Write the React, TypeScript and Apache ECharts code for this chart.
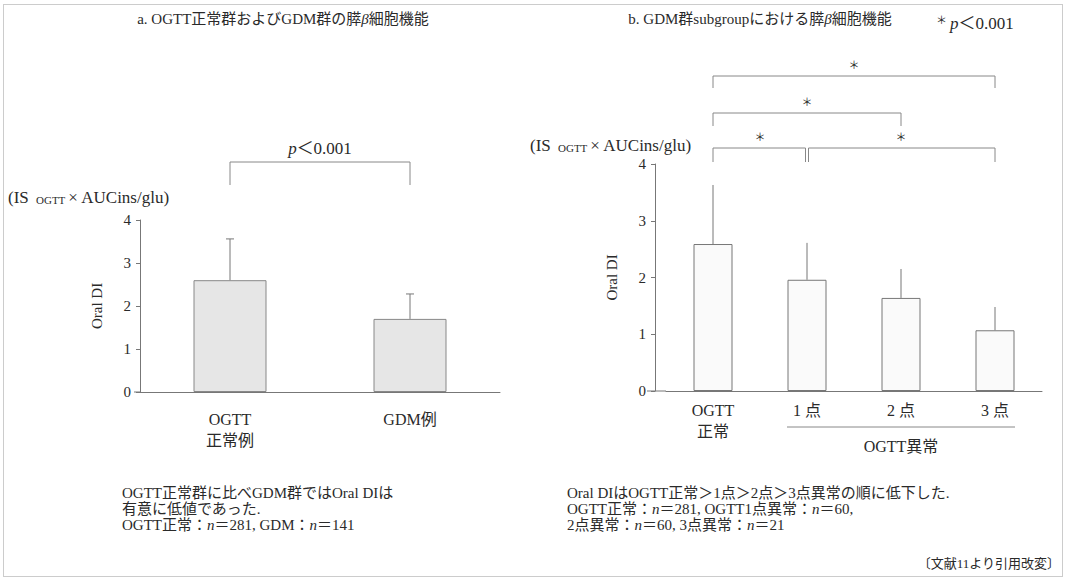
import React, { useEffect, useRef } from 'react';
import * as echarts from 'echarts';

const leftCategories = ['OGTT\n正常例', 'GDM例'];
const leftMeans = [2.6, 1.7];
const leftSD = [0.96, 0.58];
const rightCategories = ['OGTT\n正常', '1 点', '2 点', '3 点'];
const rightMeans = [2.59, 1.96, 1.64, 1.07];
const rightSD = [1.04, 0.65, 0.51, 0.41];
const yTicks = [0, 1, 2, 3, 4];
const leftComparisons = [[0, 1]];
const rightComparisons = [[0, 3], [0, 2], [0, 1], [1, 3]];
const leftNote = [
  'OGTT正常群に比べGDM群ではOral DIは',
  '有意に低値であった.',
  'OGTT正常：{i|n}＝281, GDM：{i|n}＝141',
];
const rightNote = [
  'Oral DIはOGTT正常＞1点＞2点＞3点異常の順に低下した.',
  'OGTT正常：{i|n}＝281, OGTT1点異常：{i|n}＝60,',
  '2点異常：{i|n}＝60, 3点異常：{i|n}＝21',
];
const sourceNote = '〔文献11より引用改変〕';

const FONT = '"Liberation Serif", "Noto Sans CJK JP", serif';
const INK = '#2a2a2a';
const LINE = '#777';

export default function App() {
  const ref = useRef<HTMLDivElement>(null);
  useEffect(() => {
    document.body.style.margin = '0';
    const chart = echarts.init(ref.current!, null, { renderer: 'svg' });
    const yAxisBase = (gi: number, offset: number) => ({
      type: 'value',
      gridIndex: gi,
      min: yTicks[0],
      max: yTicks[yTicks.length - 1],
      interval: 1,
      offset,
      splitLine: { show: false },
      axisLine: { show: true, lineStyle: { color: LINE, width: 1 } },
      axisTick: { show: true, length: 4, lineStyle: { color: LINE } },
      axisLabel: { margin: 9, fontSize: 15, color: INK, fontFamily: FONT },
      name: 'Oral DI',
      nameLocation: 'middle',
      nameGap: 36,
      nameRotate: 90,
      nameTextStyle: { fontSize: 15, color: INK, fontFamily: FONT },
    });
    const xAxisBase = (gi: number, data: string[], margin: number) => ({
      type: 'category',
      gridIndex: gi,
      data,
      axisTick: { show: false },
      axisLine: { show: true, lineStyle: { color: LINE, width: 1 } },
      axisLabel: { margin, fontSize: 16, lineHeight: 21, color: INK, fontFamily: FONT, interval: 0 },
    });
    const errorSeries = (idx: number, means: number[], sds: number[], cap: number) => ({
      type: 'custom',
      xAxisIndex: idx,
      yAxisIndex: idx,
      z: 3,
      encode: { x: 0, y: 1 },
      data: means.map((m, i) => [i, m, sds[i]]),
      renderItem: (params: any, api: any) => {
        const i = api.value(0);
        const m = api.value(1);
        const sd = api.value(2);
        const p0 = api.coord([i, m]);
        const p1 = api.coord([i, m + sd]);
        const children: any[] = [
          { type: 'line', shape: { x1: p0[0], y1: p0[1], x2: p1[0], y2: p1[1] }, style: { stroke: LINE, lineWidth: 1 } },
        ];
        if (cap > 0) {
          children.push({ type: 'line', shape: { x1: p1[0] - cap, y1: p1[1], x2: p1[0] + cap, y2: p1[1] }, style: { stroke: LINE, lineWidth: 1 } });
        }
        return { type: 'group', children };
      },
    });
    chart.setOption({
      animation: false,
      backgroundColor: '#fff',
      grid: [
        { left: 140, top: 220, width: 360, height: 172 },
        { left: 666, top: 164, width: 376, height: 227 },
      ],
      xAxis: [xAxisBase(0, leftCategories, 17), xAxisBase(1, rightCategories, 9)],
      yAxis: [yAxisBase(0, 0), yAxisBase(1, 11)],
      series: [
        {
          type: 'bar', xAxisIndex: 0, yAxisIndex: 0, data: leftMeans, barWidth: 73,
          itemStyle: { color: '#e6e6e6', borderColor: '#888', borderWidth: 1 },
        },
        errorSeries(0, leftMeans, leftSD, 4),
        {
          type: 'bar', xAxisIndex: 1, yAxisIndex: 1, data: rightMeans, barWidth: 39,
          itemStyle: { color: '#fafafa', borderColor: '#777', borderWidth: 1 },
        },
        errorSeries(1, rightMeans, rightSD, 0),
      ],
    });

    const px = (ax: number, c: number, v: number) =>
      chart.convertToPixel({ xAxisIndex: ax, yAxisIndex: ax } as any, [c, v]) as number[];

    const g: any[] = [];
    g.push({
      type: 'rect', shape: { x: 3.5, y: 4.5, width: 1059, height: 572 },
      style: { fill: 'none', stroke: '#999', lineWidth: 1, lineDash: [1, 1] }, silent: true,
    });
    const textEl = (x: number, y: number, text: string, opt: any = {}) => {
      const fs = opt.fontSize || 15;
      return {
        type: 'text', x, y,
        style: {
          text, fontFamily: FONT, fontSize: fs, fill: INK,
          textAlign: opt.align || 'left', textVerticalAlign: opt.valign || 'middle',
          lineHeight: opt.lineHeight,
          rich: {
            i: { fontStyle: 'italic', fontFamily: FONT, fontSize: fs, fill: INK },
            sub: { fontSize: 11, fontFamily: FONT, fill: INK, padding: [6, 3, 0, 3] },
            s: { fontSize: 11, fontFamily: FONT, fill: INK, padding: [0, 3, 6, 0] },
          },
        },
      };
    };
    // titles
    g.push(textEl(283, 19, 'a. OGTT正常群およびGDM群の膵{i|β}細胞機能', { align: 'center' }));
    g.push(textEl(760, 19, 'b. GDM群subgroupにおける膵{i|β}細胞機能', { align: 'center' }));
    g.push(textEl(936, 23, '{s|＊}{i|p}＜0.001', { fontSize: 17 }));
    // unit labels
    g.push(textEl(8, 197, '(IS {sub|OGTT}× AUCins/glu)', { fontSize: 17 }));
    g.push(textEl(530, 145, '(IS {sub|OGTT}× AUCins/glu)', { fontSize: 17 }));

    // x-axis extensions to the left of the y-axis
    const l0 = px(0, 0, 0);
    const r0 = px(1, 0, 0);
    g.push({ type: 'line', shape: { x1: 134, y1: l0[1], x2: 140, y2: l0[1] }, style: { stroke: LINE, lineWidth: 1 } });
    g.push({ type: 'line', shape: { x1: 647, y1: r0[1], x2: 666, y2: r0[1] }, style: { stroke: LINE, lineWidth: 1 } });

    // left bracket
    leftComparisons.forEach((p) => {
      const a = px(0, p[0], 0)[0];
      const b = px(0, p[1], 0)[0];
      g.push({
        type: 'polyline',
        shape: { points: [[a, 185], [a, 162], [b, 162], [b, 185]] },
        style: { stroke: '#888', lineWidth: 1, fill: 'none' },
      });
      g.push(textEl((a + b) / 2, 148, '{i|p}＜0.001', { align: 'center', fontSize: 17 }));
    });
    // right brackets
    const levels = [76, 113, 148, 148];
    const drops = [12, 13, 14, 14];
    rightComparisons.forEach((p, k) => {
      const a = px(1, p[0], 0)[0];
      const b = px(1, p[1], 0)[0];
      const y = levels[k];
      const xa = k === 3 ? a + 1.5 : a;
      const xb = k === 2 ? b - 1.5 : b;
      g.push({
        type: 'polyline',
        shape: { points: [[xa, y + drops[k]], [xa, y], [xb, y], [xb, y + drops[k]]] },
        style: { stroke: '#888', lineWidth: 1, fill: 'none' },
      });
      g.push(textEl((a + b) / 2, y - 11, '＊', { align: 'center', fontSize: 11 }));
    });

    // OGTT異常 grouping line
    const g1 = px(1, 1, 0)[0] - 20;
    const g3 = px(1, 3, 0)[0] + 20;
    g.push({ type: 'line', shape: { x1: g1, y1: r0[1] + 36, x2: g3, y2: r0[1] + 36 }, style: { stroke: '#888', lineWidth: 1 } });
    g.push(textEl(px(1, 2, 0)[0], r0[1] + 55, 'OGTT異常', { align: 'center', fontSize: 16 }));

    // notes
    g.push(textEl(122, 485, leftNote.join('\n'), { valign: 'top', fontSize: 15, lineHeight: 16 }));
    g.push(textEl(567, 485, rightNote.join('\n'), { valign: 'top', fontSize: 15, lineHeight: 16 }));
    g.push(textEl(1060, 563, sourceNote, { align: 'right', fontSize: 13 }));

    chart.setOption({ graphic: g });
    return () => chart.dispose();
  }, []);
  return <div ref={ref} style={{ width: 1067, height: 581 }} />;
}
